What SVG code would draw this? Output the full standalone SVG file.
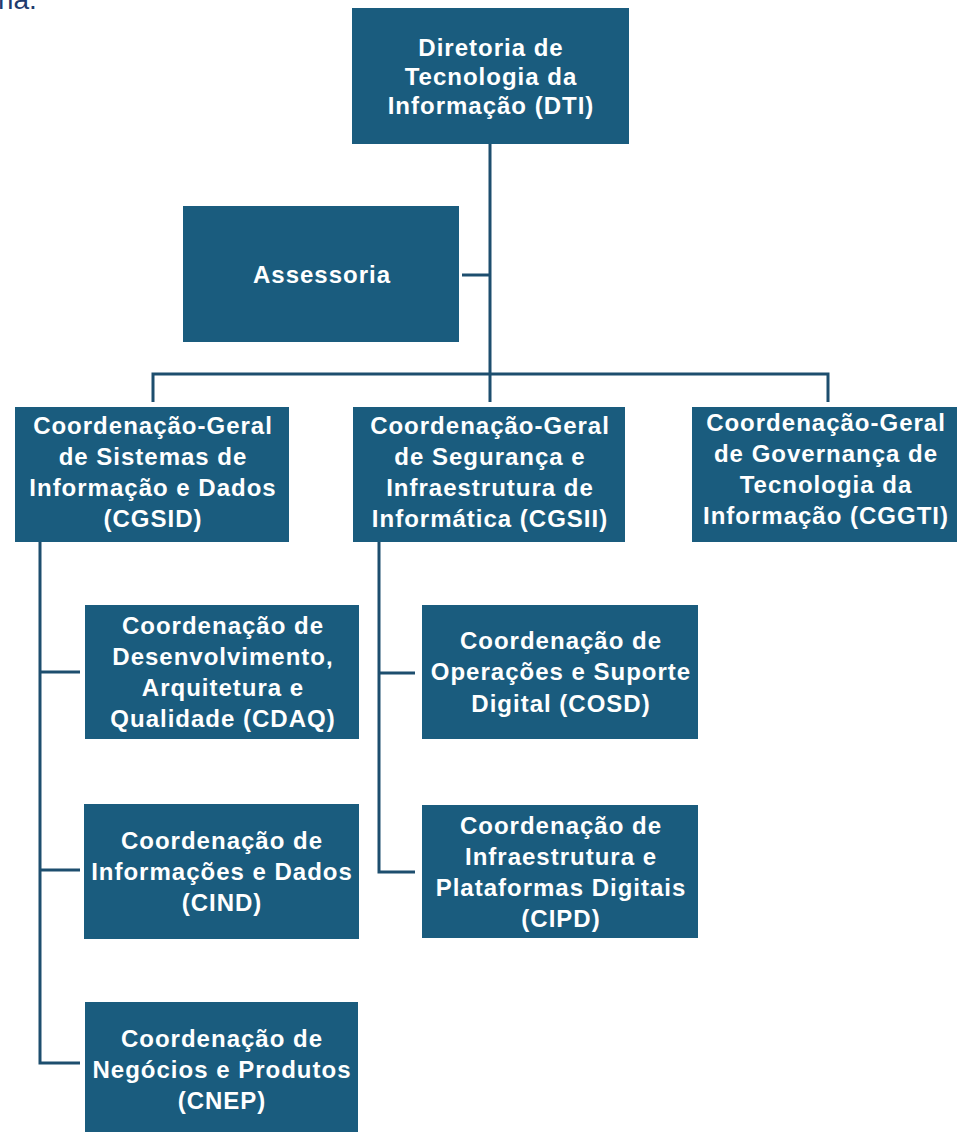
<svg xmlns="http://www.w3.org/2000/svg" width="957" height="1132" viewBox="0 0 957 1132">
<style>
.box{fill:#1a5c7e}
.t{font-family:"Liberation Sans",Arial,sans-serif;font-weight:bold;font-size:24px;letter-spacing:1px;fill:#ffffff;text-anchor:middle}
.c{fill:none;stroke:#1d4e6e;stroke-width:3}
</style>
<rect width="957" height="1132" fill="#ffffff"/>
<text x="-2" y="9" font-family="Liberation Sans, Arial, sans-serif" font-size="28" fill="#1f3b6e">ria.</text>
<g id="connectors">
<path class="c" d="M490 144V402"/>
<path class="c" d="M462 275H490"/>
<path class="c" d="M153 402V374H828V402"/>
<path class="c" d="M40 542V1063H80"/>
<path class="c" d="M40 672H80"/>
<path class="c" d="M40 870H80"/>
<path class="c" d="M379 542V872H415"/>
<path class="c" d="M379 673H415"/>
</g>
<g id="dti"><rect class="box" x="352" y="8" width="277" height="136"/>
<text class="t" x="491" y="56">Diretoria de</text><text class="t" x="491" y="85">Tecnologia da</text><text class="t" x="491" y="114">Informação (DTI)</text></g>
<g id="assessoria"><rect class="box" x="183" y="206" width="276" height="136"/>
<text class="t" x="322" y="283">Assessoria</text></g>
<g id="cgsid"><rect class="box" x="15" y="407" width="274" height="135"/>
<text class="t" x="153" y="434">Coordenação-Geral</text><text class="t" x="153" y="465">de Sistemas de</text><text class="t" x="153" y="496">Informação e Dados</text><text class="t" x="153" y="527">(CGSID)</text></g>
<g id="cgsii"><rect class="box" x="353" y="407" width="272" height="135"/>
<text class="t" x="490" y="434">Coordenação-Geral</text><text class="t" x="490" y="465">de Segurança e</text><text class="t" x="490" y="496">Infraestrutura de</text><text class="t" x="490" y="527">Informática (CGSII)</text></g>
<g id="cggti"><rect class="box" x="692" y="407" width="265" height="135"/>
<text class="t" x="826" y="431">Coordenação-Geral</text><text class="t" x="826" y="462">de Governança de</text><text class="t" x="826" y="493">Tecnologia da</text><text class="t" x="826" y="524">Informação (CGGTI)</text></g>
<g id="cdaq"><rect class="box" x="85" y="605" width="274" height="134"/>
<text class="t" x="223" y="634">Coordenação de</text><text class="t" x="223" y="665">Desenvolvimento,</text><text class="t" x="223" y="696">Arquitetura e</text><text class="t" x="223" y="727">Qualidade (CDAQ)</text></g>
<g id="cind"><rect class="box" x="84" y="804" width="275" height="135"/>
<text class="t" x="222" y="849">Coordenação de</text><text class="t" x="222" y="880">Informações e Dados</text><text class="t" x="222" y="911">(CIND)</text></g>
<g id="cnep"><rect class="box" x="85" y="1002" width="273" height="130"/>
<text class="t" x="222" y="1047">Coordenação de</text><text class="t" x="222" y="1078">Negócios e Produtos</text><text class="t" x="222" y="1109">(CNEP)</text></g>
<g id="cosd"><rect class="box" x="422" y="605" width="276" height="134"/>
<text class="t" x="561" y="649">Coordenação de</text><text class="t" x="561" y="680">Operações e Suporte</text><text class="t" x="561" y="712">Digital (COSD)</text></g>
<g id="cipd"><rect class="box" x="422" y="805" width="276" height="133"/>
<text class="t" x="561" y="834">Coordenação de</text><text class="t" x="561" y="865">Infraestrutura e</text><text class="t" x="561" y="896">Plataformas Digitais</text><text class="t" x="561" y="927">(CIPD)</text></g>
</svg>
